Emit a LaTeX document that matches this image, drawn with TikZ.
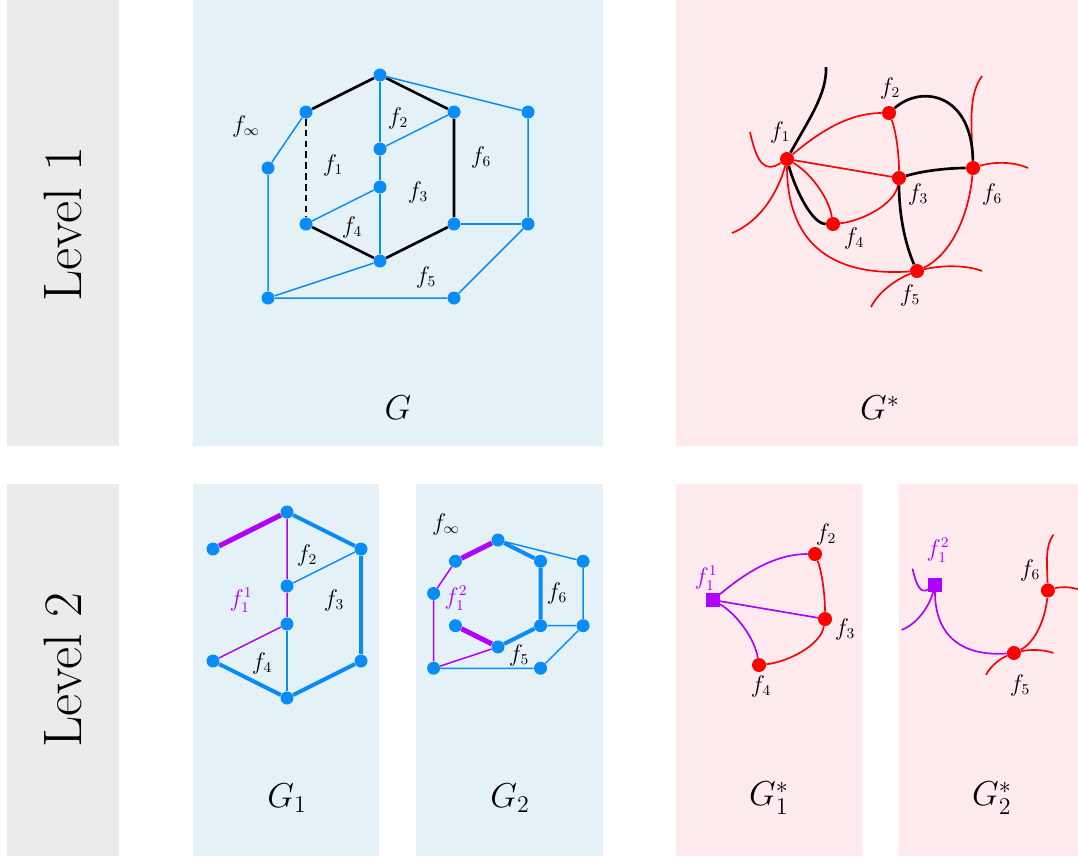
\documentclass[tikz,border=0pt]{standalone}
\usepackage{xcolor}
\usepackage{tikz}
\definecolor{panelgray}{HTML}{EBEBEB}
\definecolor{panelblue}{HTML}{E4F2F7}
\definecolor{panelpink}{HTML}{FFEBEE}
\definecolor{nodeblue}{HTML}{0A8CF7}
\definecolor{splitpurple}{HTML}{B000FF}

\begin{document}
\begin{tikzpicture}[x=0.6pt, y=-0.6pt,
  vtx/.style={circle, fill=nodeblue, inner sep=0pt, minimum size=7.8pt},
  dualv/.style={circle, fill=red, inner sep=0pt, minimum size=8.4pt},
  rootv/.style={rectangle, fill=splitpurple, inner sep=0pt, minimum size=8pt},
  thinb/.style={nodeblue, line width=0.9pt},
  heavyb/.style={nodeblue, line width=2.4pt},
  thinp/.style={splitpurple, line width=0.9pt},
  heavyp/.style={splitpurple, line width=3pt},
  cutedge/.style={black, line width=1.6pt},
  dualedge/.style={red, line width=1pt},
  rootedge/.style={splitpurple, line width=1pt},
  lbl/.style={inner sep=0.5pt, font=\fontsize{13.5}{16}\selectfont},
  caption/.style={font=\fontsize{20}{24}\selectfont},
  levelname/.style={rotate=90, font=\fontsize{32.5}{38}\selectfont}]
\useasboundingbox (0,0) rectangle (1078,856);

% panels
\fill[panelgray] (7,0) rectangle (119,446);
\fill[panelgray] (7,484) rectangle (119,856);
\fill[panelblue] (193,0) rectangle (603,446);
\fill[panelpink] (676,0) rectangle (1078,446);
\fill[panelblue] (193,484) rectangle (379,856);
\fill[panelblue] (416,484) rectangle (603,856);
\fill[panelpink] (676,484) rectangle (862,856);
\fill[panelpink] (899,484) rectangle (1078,856);

\node[levelname] (lev1) at (63,224) {Level 1};
\node[levelname] (lev2) at (63,670) {Level 2};

% G
\begin{scope}[shift={(380,75)}]
  \node[vtx] (gt) at (0,0) {};
  \node[vtx] (gul) at (-74,37) {};
  \node[vtx] (gur) at (74,37) {};
  \node[vtx] (gmu) at (0,74) {};
  \node[vtx] (gml) at (0,112) {};
  \node[vtx] (gll) at (-74,149) {};
  \node[vtx] (glr) at (74,149) {};
  \node[vtx] (gb) at (0,186) {};
  \node[vtx] (glo) at (-112,93) {};
  \node[vtx] (gfrt) at (148,37) {};
  \node[vtx] (gfrb) at (148,149) {};
  \node[vtx] (gblo) at (-112,223) {};
  \node[vtx] (gbro) at (74,223) {};
  \draw[cutedge] (gul) -- (gt) -- (gur) -- (glr) -- (gb) -- (gll);
  \draw[cutedge, dash pattern=on 4pt off 2.5pt] (gul) -- (gll);
  \draw[thinb] (gt) -- (gmu) -- (gml) -- (gb);
  \draw[thinb] (gmu) -- (gur);
  \draw[thinb] (gml) -- (gll);
  \draw[thinb] (gt) -- (gfrt) -- (gfrb) -- (gbro) -- (gblo) -- (glo) -- (gul);
  \draw[thinb] (glr) -- (gfrb);
  \draw[thinb] (gblo) -- (gb);
\end{scope}
\node[lbl] (lgi) at (246,126) {$f_\infty$};
\node[lbl] (lg1) at (333,165) {$f_1$};
\node[lbl] (lg2) at (398,118) {$f_2$};
\node[lbl] (lg3) at (418,192) {$f_3$};
\node[lbl] (lg4) at (352,227) {$f_4$};
\node[lbl] (lg5) at (426,277) {$f_5$};
\node[lbl] (lg6) at (481,157) {$f_6$};
\node[caption] (capg) at (398,408) {$G$};

% G*
\begin{scope}[shift={(787,159)}]
  \node[dualv] (a1) at (0,0) {};
  \node[dualv] (a2) at (102,-46) {};
  \node[dualv] (a3) at (112,19) {};
  \node[dualv] (a4) at (46,65) {};
  \node[dualv] (a5) at (130,112) {};
  \node[dualv] (a6) at (186,9) {};
  \coordinate (a1u) at (-37,-27);
  \coordinate (a1d) at (-55,74);
  \coordinate (a1k) at (39,-92);
  \coordinate (a5d) at (84,148);
  \coordinate (a5r) at (195,112);
  \coordinate (a6u) at (195,-83);
  \coordinate (a6r) at (241,9);
  \draw[dualedge] (a1) .. controls (30,-25) and (60,-46) .. (a2);
  \draw[dualedge] (a1) -- (a3);
  \draw[dualedge] (a1) .. controls (25,15) and (42,40) .. (a4);
  \draw[dualedge] (a2) .. controls (109,-28) and (112,-5) .. (a3);
  \draw[dualedge] (a4) .. controls (75,62) and (108,45) .. (a3);
  \draw[dualedge] (a1) .. controls (0,80) and (40,118) .. (a5);
  \draw[dualedge] (a5) .. controls (165,95) and (182,55) .. (a6);
  \draw[dualedge] (a6) .. controls (184,-40) and (182,-65) .. (a6u);
  \draw[dualedge] (a6) .. controls (205,3) and (225,2) .. (a6r);
  \draw[dualedge] (a5) .. controls (155,106) and (180,106) .. (a5r);
  \draw[dualedge] (a5) .. controls (110,120) and (92,132) .. (a5d);
  \draw[dualedge] (a1) .. controls (-22,14) and (-30,5) .. (a1u);
  \draw[dualedge] (a1) .. controls (-8,30) and (-25,62) .. (a1d);
  \draw[cutedge] (a1) .. controls (22,-40) and (40,-65) .. (a1k);
  \draw[cutedge] (a1) .. controls (8,30) and (25,65) .. (a4);
  \draw[cutedge] (a2) .. controls (135,-75) and (185,-65) .. (a6);
  \draw[cutedge] (a3) .. controls (135,12) and (160,9) .. (a6);
  \draw[cutedge] (a3) .. controls (112,55) and (118,85) .. (a5);
\end{scope}
\node[lbl] (la1) at (780,132) {$f_1$};
\node[lbl] (la2) at (890,88) {$f_2$};
\node[lbl] (la3) at (918,194) {$f_3$};
\node[lbl] (la4) at (854,238) {$f_4$};
\node[lbl] (la5) at (910,295) {$f_5$};
\node[lbl] (la6) at (992,194) {$f_6$};
\node[caption] (capa) at (880,408) {$G^*$};

% G_1
\begin{scope}[shift={(287,512)}]
  \node[vtx] (bt) at (0,0) {};
  \node[vtx] (bul) at (-74,37) {};
  \node[vtx] (bur) at (74,37) {};
  \node[vtx] (bmu) at (0,74) {};
  \node[vtx] (bml) at (0,112) {};
  \node[vtx] (bll) at (-74,149) {};
  \node[vtx] (blr) at (74,149) {};
  \node[vtx] (bb) at (0,186) {};
  \draw[heavyp] (bul) -- (bt);
  \draw[thinp] (bt) -- (bmu) -- (bml) -- (bll);
  \draw[heavyb] (bt) -- (bur) -- (blr) -- (bb) -- (bll);
  \draw[thinb] (bmu) -- (bur);
  \draw[thinb] (bml) -- (bb);
\end{scope}
\node[lbl] (lb2) at (307,555) {$f_2$};
\node[lbl] (lb3) at (334,600) {$f_3$};
\node[lbl, splitpurple] (lb1) at (241,600) {$f_1^1$};
\node[lbl] (lb4) at (262,663) {$f_4$};
\node[caption] (capb) at (287,798) {$G_1$};

% G_2
\begin{scope}[shift={(498,540)}, scale=0.575]
  \node[vtx] (ct) at (0,0) {};
  \node[vtx] (cul) at (-74,37) {};
  \node[vtx] (cur) at (74,37) {};
  \node[vtx] (cll) at (-74,149) {};
  \node[vtx] (clr) at (74,149) {};
  \node[vtx] (cb) at (0,186) {};
  \node[vtx] (clo) at (-112,93) {};
  \node[vtx] (cfrt) at (148,37) {};
  \node[vtx] (cfrb) at (148,149) {};
  \node[vtx] (cblo) at (-112,223) {};
  \node[vtx] (cbro) at (74,223) {};
  \draw[heavyp] (cul) -- (ct);
  \draw[heavyp] (cll) -- (cb);
  \draw[thinp] (cul) -- (clo) -- (cblo) -- (cb);
  \draw[heavyb] (ct) -- (cur) -- (clr) -- (cb);
  \draw[thinb] (ct) -- (cfrt) -- (cfrb) -- (cbro) -- (cblo);
  \draw[thinb] (clr) -- (cfrb);
\end{scope}
\node[lbl] (lci) at (446,524) {$f_\infty$};
\node[lbl, splitpurple] (lc1) at (456,598) {$f_1^2$};
\node[lbl] (lc6) at (557,593) {$f_6$};
\node[lbl] (lc5) at (519,655) {$f_5$};
\node[caption] (capc) at (510,798) {$G_2$};

% G_1*
\begin{scope}[shift={(713,600)}]
  \node[rootv] (d1) at (0,0) {};
  \node[dualv] (d2) at (102,-46) {};
  \node[dualv] (d3) at (112,19) {};
  \node[dualv] (d4) at (46,65) {};
  \draw[rootedge] (d1) .. controls (30,-25) and (60,-46) .. (d2);
  \draw[rootedge] (d1) -- (d3);
  \draw[rootedge] (d1) .. controls (25,15) and (42,40) .. (d4);
  \draw[dualedge] (d2) .. controls (109,-28) and (112,-5) .. (d3);
  \draw[dualedge] (d4) .. controls (75,62) and (108,45) .. (d3);
\end{scope}
\node[lbl, splitpurple] (ld1) at (706,578) {$f_1^1$};
\node[lbl] (ld2) at (826,534) {$f_2$};
\node[lbl] (ld3) at (845,629) {$f_3$};
\node[lbl] (ld4) at (761,686) {$f_4$};
\node[caption] (capd) at (769,798) {$G_1^*$};

% G_2*
\begin{scope}[shift={(935,585)}, scale=0.607]
  \node[rootv] (e1) at (0,0) {};
  \node[dualv] (e5) at (130,112) {};
  \node[dualv] (e6) at (186,9) {};
  \coordinate (e1u) at (-37,-27);
  \coordinate (e1d) at (-55,74);
  \coordinate (e5d) at (84,148);
  \coordinate (e5r) at (195,112);
  \coordinate (e6u) at (195,-83);
  \coordinate (e6r) at (241,9);
  \draw[rootedge] (e1) .. controls (-22,14) and (-30,5) .. (e1u);
  \draw[rootedge] (e1) .. controls (-8,30) and (-25,62) .. (e1d);
  \draw[rootedge] (e1) .. controls (0,80) and (40,118) .. (e5);
  \draw[dualedge] (e5) .. controls (165,95) and (182,55) .. (e6);
  \draw[dualedge] (e6) .. controls (184,-40) and (182,-65) .. (e6u);
  \draw[dualedge] (e6) .. controls (205,3) and (225,2) .. (e6r);
  \draw[dualedge] (e5) .. controls (155,106) and (180,106) .. (e5r);
  \draw[dualedge] (e5) .. controls (110,120) and (92,132) .. (e5d);
\end{scope}
\node[lbl, splitpurple] (le1) at (938,550) {$f_1^2$};
\node[lbl] (le6) at (1030,570) {$f_6$};
\node[lbl] (le5) at (1020,685) {$f_5$};
\node[caption] (cape) at (992,798) {$G_2^*$};
\end{tikzpicture}
\end{document}
